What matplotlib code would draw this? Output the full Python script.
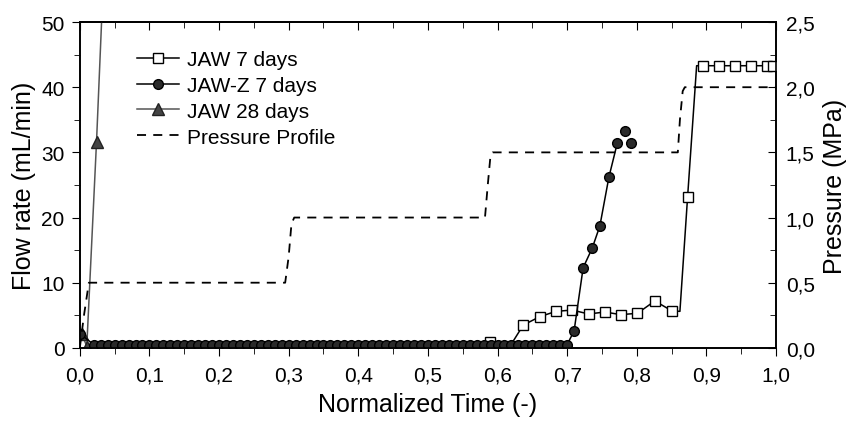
import matplotlib
matplotlib.use("Agg")
import matplotlib.pyplot as plt
from matplotlib.ticker import MultipleLocator, FuncFormatter

plt.rcParams['font.family'] = ['Liberation Sans', 'DejaVu Sans']

# JAW 7 days (open squares)
jaw7_x = [0.589, 0.620, 0.637, 0.661, 0.684, 0.707, 0.731, 0.754, 0.777, 0.801, 0.826, 0.850,
          0.862, 0.873, 0.886, 0.895, 0.918, 0.941, 0.964, 0.987, 0.996]
jaw7_y = [0.9, 0.6, 3.5, 4.8, 5.6, 5.8, 5.2, 5.5, 5.1, 5.3, 7.2, 5.7,
          5.6, 23.1, 43.3, 43.3, 43.3, 43.3, 43.3, 43.3, 43.3]
jaw7_marker = [True, False, True, True, True, True, True, True, True, True, True, True,
               False, True, False, True, True, True, True, True, True]

# JAW-Z 7 days (filled circles)
jawz_x = [0.000, 0.020, 0.030, 0.040, 0.050, 0.060, 0.070, 0.080, 0.090, 0.100,
          0.110, 0.120, 0.130, 0.140, 0.150, 0.160, 0.170, 0.180, 0.190, 0.200,
          0.210, 0.220, 0.230, 0.240, 0.250, 0.260, 0.270, 0.280, 0.290, 0.300,
          0.310, 0.320, 0.330, 0.340, 0.350, 0.360, 0.370, 0.380, 0.390, 0.400,
          0.410, 0.420, 0.430, 0.440, 0.450, 0.460, 0.470, 0.480, 0.490, 0.500,
          0.510, 0.520, 0.530, 0.540, 0.550, 0.560, 0.570, 0.580, 0.590, 0.600,
          0.610, 0.620, 0.630, 0.640, 0.650, 0.660, 0.670, 0.680, 0.690, 0.700,
          0.710, 0.723, 0.736, 0.747, 0.760, 0.772]
jawz_y = [2.2] + [0.5] * 69 + [2.6, 12.3, 15.3, 18.7, 26.2, 31.4]
jawz_extra_x = [0.783, 0.792]
jawz_extra_y = [33.3, 31.4]

# JAW 28 days (triangles)
jaw28_x = [0.003, 0.010, 0.024, 0.036]
jaw28_y = [2.2, 0.2, 31.6, 62.0]

# pressure profile (MPa, right axis)
press_x = [0.0, 0.006, 0.013, 0.295, 0.300, 0.304, 0.308, 0.582, 0.586, 0.590, 0.593,
           0.859, 0.862, 0.866, 0.869, 1.0]
press_y = [0.0, 0.25, 0.5, 0.5, 0.7, 0.95, 1.0, 1.0, 1.25, 1.48, 1.5,
           1.5, 1.75, 1.97, 2.0, 2.0]

fig = plt.figure(figsize=(8.49, 4.27), dpi=100)
ax = fig.add_axes([0.094, 0.183, 0.820, 0.763])
ax2 = ax.twinx()

lw = 1.1
ax.plot(jaw7_x, jaw7_y, '-', color='black', lw=lw, zorder=3)
mx = [x for x, m in zip(jaw7_x, jaw7_marker) if m]
my = [y for y, m in zip(jaw7_y, jaw7_marker) if m]
ax.plot(mx, my, 's', ms=7, mfc='white', mec='black', mew=1.0, zorder=4)
l1, = ax.plot([], [], '-s', color='black', lw=lw, ms=7, mfc='white', mec='black')

ax.plot(jawz_x, jawz_y, '-o', color='black', lw=lw, ms=7, mfc='#2a2a2a', mec='black', zorder=5)
ax.plot(jawz_extra_x, jawz_extra_y, 'o', ms=7, mfc='#2a2a2a', mec='black', zorder=5)
l2, = ax.plot([], [], '-o', color='black', lw=lw, ms=7, mfc='#2a2a2a', mec='black')

ax.plot(jaw28_x, jaw28_y, '-', color='#555555', lw=lw, zorder=3)
ax.plot(jaw28_x[:3], jaw28_y[:3], '^', ms=8, mfc='#444444', mec='#222222', zorder=4)
l3, = ax.plot([], [], '-^', color='#555555', lw=lw, ms=8, mfc='#444444', mec='#222222')

l4, = ax2.plot(press_x, press_y, '--', color='black', lw=1.3, dashes=(5, 4))

ax.set_xlim(0, 1.0)
ax.set_ylim(0, 50)
ax2.set_ylim(0, 2.5)

comma1 = FuncFormatter(lambda v, p: f"{v:.1f}".replace('.', ','))
ax.xaxis.set_major_locator(MultipleLocator(0.1))
ax.xaxis.set_minor_locator(MultipleLocator(0.05))
ax.xaxis.set_major_formatter(comma1)
ax.yaxis.set_major_locator(MultipleLocator(10))
ax.yaxis.set_minor_locator(MultipleLocator(5))
ax2.yaxis.set_major_locator(MultipleLocator(0.5))
ax2.yaxis.set_minor_locator(MultipleLocator(0.25))
ax2.yaxis.set_major_formatter(comma1)

# bottom ticks outward, top ticks inward (mirrored)
ax.tick_params(axis='x', which='both', direction='out', labelsize=15, pad=7)
ax.tick_params(axis='x', which='major', length=6)
ax.tick_params(axis='x', which='minor', length=4)
top = ax.secondary_xaxis('top')
top.xaxis.set_major_locator(MultipleLocator(0.1))
top.xaxis.set_minor_locator(MultipleLocator(0.05))
top.tick_params(axis='x', which='both', direction='in', labeltop=False)
top.tick_params(axis='x', which='major', length=6)
top.tick_params(axis='x', which='minor', length=4)

ax.tick_params(axis='y', which='both', direction='out', labelsize=15, pad=5)
ax.tick_params(axis='y', which='major', length=6)
ax.tick_params(axis='y', which='minor', length=4)
ax2.tick_params(axis='y', which='both', direction='in', labelsize=15, pad=7)
ax2.tick_params(axis='y', which='major', length=6)
ax2.tick_params(axis='y', which='minor', length=4)
for a in (ax, ax2, top):
    for s in a.spines.values():
        s.set_linewidth(1.2)

ax.set_xlabel("Normalized Time (-)", fontsize=18, labelpad=5)
ax.set_ylabel("Flow rate (mL/min)", fontsize=18, labelpad=4)
ax2.set_ylabel("Pressure (MPa)", fontsize=18, labelpad=6)

ax.legend([l1, l2, l3, l4], ["JAW 7 days", "JAW-Z 7 days", "JAW 28 days", "Pressure Profile"],
          loc='upper left', bbox_to_anchor=(0.07, 0.94), frameon=False, fontsize=15,
          handlelength=2.0, handletextpad=0.4, labelspacing=0.33, borderaxespad=0.0)

fig.savefig("out.png", dpi=100)
